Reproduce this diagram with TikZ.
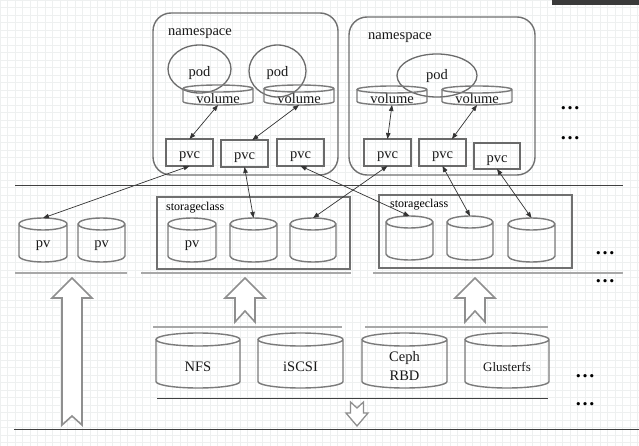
\documentclass[tikz,border=0pt]{standalone}
\usepackage{fontspec}
\setmainfont{Liberation Serif}
\usetikzlibrary{shapes.geometric,arrows.meta,calc}
\definecolor{gridc}{HTML}{EEF0F0}
\definecolor{nsc}{HTML}{707070}
\definecolor{podc}{HTML}{6B6B6B}
\definecolor{cylc}{HTML}{7B7B7B}
\definecolor{pvcc}{HTML}{6A6A6A}
\definecolor{scc}{HTML}{707070}
\definecolor{lightc}{HTML}{A8A8A8}
\definecolor{darkc}{HTML}{404040}
\definecolor{arrc}{HTML}{8F8F8F}
\definecolor{linkc}{HTML}{333333}
\definecolor{barc}{HTML}{3A3A3A}
\newcommand\dn[2]{\raisebox{-#1}[\height][\depth]{#2}}
\begin{document}
\begin{tikzpicture}[x=1pt,y=-1pt,
  txt/.style={font=\fontsize{14.5}{19.5}\selectfont, text=black!90},
  nsbox/.style={draw=nsc, line width=1.4pt, rounded corners=18pt, inner sep=0pt, outer sep=0pt},
  podel/.style={ellipse, draw=podc, line width=1.3pt, inner sep=0pt, outer sep=0pt, txt},
  cylnode/.style={rectangle, inner sep=0pt, outer sep=0pt, txt},
  cyl/.style={draw=cylc, line width=1.4pt},
  pvcbox/.style={rectangle, draw=pvcc, line width=1.1pt, inner sep=0pt, outer sep=0pt, txt, minimum width=47pt, minimum height=27pt},
  scbox/.style={rectangle, draw=scc, line width=1.5pt, inner sep=0pt, outer sep=0pt},
  lbl/.style={inner sep=0pt, txt},
  sclbl/.style={inner sep=0pt, font=\fontsize{12}{14}\selectfont},
  link/.style={{Triangle[length=6pt,width=4.5pt]}-{Triangle[length=6pt,width=4.5pt]}, draw=linkc, line width=0.7pt},
  sepd/.style={draw=darkc, line width=1pt},
  sepl/.style={draw=lightc, line width=2.2pt},
  bigarr/.style={draw=arrc, line width=1.6pt, fill=white, line join=miter},
  dots/.style={inner sep=0pt, anchor=base, font=\fontsize{20}{22}\selectfont\bfseries}
]
\useasboundingbox (0,0) rectangle (639,446);
\fill[white] (0,0) rectangle (639,446);
\draw[gridc, line width=0.3pt] (0,0) grid[step=7.5pt] (639,446);
\fill[barc] (552,0) rectangle (639,5);

% namespaces
\node[nsbox, minimum width=185pt, minimum height=162pt] (ns1) at (245.5,94) {};
\node[nsbox, minimum width=186pt, minimum height=158pt] (ns2) at (442,96) {};
\node[lbl, anchor=base west] (ns1t) at (168,35.5) {namespace};
\node[lbl, anchor=base west] (ns2t) at (368,39.5) {namespace};

% volumes
\node[cylnode, minimum width=70pt, minimum height=20pt] (vA) at (218,95) {\dn{3.5pt}{volume}};
\node[cylnode, minimum width=70pt, minimum height=20pt] (vB) at (299,95) {\dn{3.5pt}{volume}};
\node[cylnode, minimum width=70pt, minimum height=19pt] (vC) at (392,95.5) {\dn{3.5pt}{volume}};
\node[cylnode, minimum width=70pt, minimum height=19pt] (vD) at (477,95.5) {\dn{3.5pt}{volume}};

% pods
\node[podel, minimum width=63pt, minimum height=48pt] (podA) at (199.5,69) {\dn{4pt}{pod}};
\node[podel, minimum width=57pt, minimum height=52pt] (podB) at (277.5,71) {\dn{2pt}{pod}};
\node[podel, minimum width=80pt, minimum height=43pt] (podC) at (437,75.5) {\dn{1pt}{pod}};

% pvcs
\node[pvcbox] (pA) at (189.5,152.5) {\dn{4.5pt}{pvc}};
\node[pvcbox] (pB) at (244.5,153.5) {\dn{4.5pt}{pvc}};
\node[pvcbox] (pC) at (300.5,152.5) {\dn{4.5pt}{pvc}};
\node[pvcbox] (pD) at (387.5,152.5) {\dn{4.5pt}{pvc}};
\node[pvcbox] (pE) at (442.5,152.5) {\dn{4.5pt}{pvc}};
\node[pvcbox, minimum width=46pt, minimum height=26pt] (pF) at (497,156) {\dn{4.5pt}{pvc}};

% storage classes
\node[scbox, minimum width=193pt, minimum height=72pt] (sc1) at (253.5,233) {};
\node[scbox, minimum width=193pt, minimum height=73pt] (sc2) at (475.5,231.5) {};
\node[sclbl, anchor=base west] (sc1t) at (166,211) {storageclass};
\node[sclbl, anchor=base west] (sc2t) at (390,208) {storageclass};

% pv cylinders
\node[cylnode, minimum width=48pt, minimum height=44pt] (pvA) at (43,240) {\dn{6pt}{pv}};
\node[cylnode, minimum width=47pt, minimum height=44pt] (pvB) at (101.5,240) {\dn{6pt}{pv}};
\node[cylnode, minimum width=48pt, minimum height=44pt] (s1a) at (192,240) {\dn{6pt}{pv}};
\node[cylnode, minimum width=47pt, minimum height=44pt] (s1b) at (253.5,240) {};
\node[cylnode, minimum width=46pt, minimum height=44pt] (s1c) at (313,240) {};
\node[cylnode, minimum width=47pt, minimum height=44pt] (s2a) at (409.5,238) {};
\node[cylnode, minimum width=46pt, minimum height=44pt] (s2b) at (470,238) {};
\node[cylnode, minimum width=47pt, minimum height=44pt] (s2c) at (531.5,240) {};

% backends
\node[cylnode, minimum width=84pt, minimum height=55pt] (nfs) at (198,360.5) {\dn{6.5pt}{NFS}};
\node[cylnode, minimum width=85pt, minimum height=55pt] (iscsi) at (300.5,360.5) {\dn{6.5pt}{iSCSI}};
\node[cylnode, minimum width=85pt, minimum height=55pt] (ceph) at (404.5,360.5) {\dn{6.5pt}{\begin{tabular}{@{}c@{}}Ceph\\RBD\end{tabular}}};
\node[cylnode, minimum width=84pt, minimum height=55pt, font=\fontsize{13}{15}\selectfont] (gluster) at (507,360.5) {\dn{6.5pt}{Glusterfs}};

% cylinder outlines
\foreach \cn/\rr in {vA/3.5, vB/3.5, vC/3.5, vD/3.5, pvA/6, pvB/6, s1a/6, s1b/6, s1c/6, s2a/6, s2b/6, s2c/6, nfs/6.5, iscsi/6.5, ceph/6.5, gluster/6.5}{
  \draw[cyl] let \p1=(\cn.north west), \p2=(\cn.south east), \n1={(\x2-\x1)/2} in
    (\x1,\y1-\rr pt) -- (\x1,\y2+\rr pt)
    arc[start angle=180, end angle=360, x radius=\n1, y radius=\rr pt]
    -- (\x2,\y1-\rr pt)
    arc[start angle=0, end angle=180, x radius=\n1, y radius=\rr pt]
    arc[start angle=180, end angle=360, x radius=\n1, y radius=\rr pt];
}

% connectors
\draw[link] (vA.south) -- (pA.north);
\draw[link] (vB.south) -- (pB.60);
\draw[link] (vC.south) -- (pD.north);
\draw[link] (vD.south) -- (pE.55);
\draw[link] (pA.south) -- (pvA.north);
\draw[link] (pB.south) -- (s1b.north);
\draw[link] (pC.south) -- (s2a.north);
\draw[link] (pD.south) -- (s1c.north);
\draw[link] (pE.south) -- (s2b.north);
\draw[link] (pF.south) -- (s2c.north);

% separators
\draw[sepd] (15,186) -- (623,186);
\draw[sepl] (15,273) -- (127,273);
\draw[sepl] (141,273) -- (351,273);
\draw[sepl] (373,273) -- (623,273);
\draw[sepl] (153,327) -- (342,327);
\draw[sepl] (365,327) -- (548,327);
\draw[sepd] (157,398) -- (548,398);
\draw[sepd] (14,429) -- (639,429);

% big arrows
\draw[bigarr] (72,278) -- (92,298) -- (82,298) -- (82,425) -- (72,416) -- (62,425) -- (62,298) -- (52,298) -- cycle;
\draw[bigarr] (245,278) -- (265,298) -- (255,298) -- (255,322) -- (245,311) -- (235,322) -- (235,298) -- (225,298) -- cycle;
\draw[bigarr] (475,278) -- (495,298) -- (485,298) -- (485,322) -- (475,311) -- (465,322) -- (465,298) -- (455,298) -- cycle;
\draw[bigarr, line width=1.3pt] (350.5,402) -- (357,408) -- (363.5,402) -- (363.5,413) -- (368,413) -- (357,426) -- (346,413) -- (350.5,413) -- cycle;

% dots
\node[dots] (d1) at (570,110) {…};
\node[dots] (d2) at (570,140) {…};
\node[dots] (d3) at (605,254) {…};
\node[dots] (d4) at (605,282) {…};
\node[dots] (d5) at (585,377) {…};
\node[dots] (d6) at (585,405) {…};
\end{tikzpicture}
\end{document}
